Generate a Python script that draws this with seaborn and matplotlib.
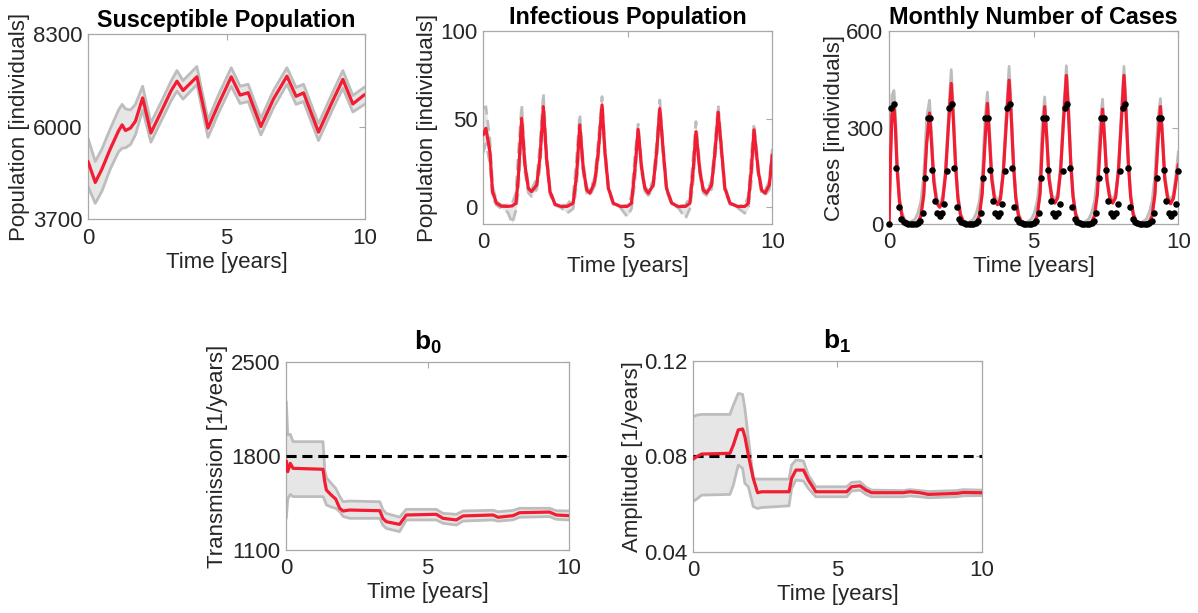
import numpy as np
import pandas as pd
import matplotlib
matplotlib.use('Agg')
import matplotlib.pyplot as plt
import seaborn as sns

# ---------------- data ----------------
# Susceptible population
s_t = [0.00, 0.26, 0.50, 0.80, 1.10, 1.23, 1.35, 1.53, 1.71, 1.97, 2.27, 2.60, 3.00, 3.21, 3.43,
       3.93, 4.33, 4.70, 5.17, 5.49, 5.78, 6.24, 6.70, 7.18, 7.51, 7.78, 8.32, 8.80, 9.20, 9.56, 9.98]
s_mean = [5140, 4620, 4950, 5450, 5900, 6050, 5910, 5970, 6140, 6720, 5850, 6320, 6900, 7135, 6905,
          7245, 5970, 6550, 7245, 6790, 6850, 6010, 6700, 7260, 6760, 6845, 5870, 6600, 7180, 6570, 6800]
s_up = [5720, 5140, 5450, 5950, 6420, 6560, 6450, 6420, 6560, 7010, 6100, 6560, 7140, 7400, 7150,
        7500, 6170, 6780, 7470, 7010, 7060, 6210, 6910, 7470, 6980, 7060, 6080, 6810, 7400, 6780, 6990]
s_lo = [4520, 4100, 4400, 4950, 5380, 5470, 5480, 5560, 5800, 6420, 5620, 6090, 6650, 6890, 6690,
        7050, 5740, 6330, 7010, 6580, 6630, 5800, 6480, 7060, 6560, 6630, 5660, 6390, 6960, 6370, 6560]

# Infectious population
i_t = [0.00, 0.09, 0.23, 0.32, 0.46, 0.63, 0.85, 1.00, 1.13, 1.21, 1.33, 1.44, 1.56, 1.67, 1.85, 1.96,
       2.08, 2.19, 2.31, 2.48, 2.70, 2.90, 3.11, 3.23, 3.34, 3.46, 3.58, 3.69, 3.86, 3.98, 4.11, 4.21,
       4.33, 4.50, 4.75, 4.98, 5.13, 5.25, 5.36, 5.48, 5.59, 5.71, 5.88, 6.00, 6.11, 6.23, 6.34, 6.52,
       6.75, 7.00, 7.15, 7.27, 7.36, 7.50, 7.61, 7.73, 7.90, 8.02, 8.13, 8.25, 8.36, 8.54, 8.80, 9.05,
       9.17, 9.28, 9.37, 9.52, 9.63, 9.75, 9.90, 10.0]
i_mean = [41, 44.7, 31.4, 8.7, 2.1, 0.4, 0.3, 0.6, 2.1, 16.3, 50.4, 23.9, 10.6, 8.7, 12.5, 27.7,
          57, 27.7, 8.7, 1.5, 0.2, 0.3, 2.1, 18.2, 46.6, 22, 9.7, 7.8, 14.4, 31.4, 58, 31.4,
          10.6, 2.1, 0.2, 0.3, 2.1, 22, 44.1, 22, 10.6, 7.8, 12.5, 31.4, 56, 31.4, 10.6, 2.1,
          0.2, 0.3, 2.1, 22, 42.8, 20, 9.7, 7.8, 12.5, 31.4, 53.8, 31.4, 10.6, 2.1, 0.2, 0.3,
          2.1, 22, 43.8, 20, 9.7, 7.8, 12.5, 29.5]
i_up = [56, 57, 38, 12, 3, 1, 1, 2, 8, 30, 58, 28, 12, 10, 16, 35,
        64.6, 32, 10, 2, 1, 1, 6, 28, 52.6, 25, 11, 9, 17, 38, 62.7, 34,
        12, 2.5, 0.5, 1, 6, 30, 47, 24, 12, 9, 15, 37, 60.8, 34, 12, 2.5,
        0.5, 1, 6, 30, 48.5, 22, 11, 9, 15, 37, 58, 34, 12, 2.5, 0.5, 1,
        6, 30, 47.5, 22, 11, 9, 15, 33]
i_lo = [31, 36, 25, 5, 1, -1, -3, -9.3, -2, 8, 44, 20, 8, 6, 10, 22,
        52, 24, 7, 1, -0.5, -3.6, -1, 12, 42, 19, 8, 6.5, 12, 27, 54, 28,
        9, 1.5, -0.5, -5.5, -1, 15, 41, 20, 9, 6.5, 10, 27, 52, 28, 9, 1.5,
        -0.5, -6.4, -1, 15, 40, 18, 8, 6.5, 10, 27, 50, 28, 9, 1.5, -0.5, -3.6,
        -1, 15, 40, 18, 8, 6.5, 10, 26]

# Monthly cases: model curve
c_t = [0.00, 0.05, 0.10, 0.17, 0.22, 0.28, 0.36, 0.45, 0.55, 0.70, 0.90, 1.00, 1.10, 1.20, 1.30, 1.40,
       1.47, 1.55, 1.65, 1.75, 1.85, 1.95, 2.05, 2.15, 2.22, 2.30, 2.38, 2.47, 2.57, 2.72, 2.92, 3.02,
       3.12, 3.22, 3.32, 3.40, 3.47, 3.55, 3.65, 3.75, 3.85, 3.95, 4.05, 4.15, 4.22, 4.30, 4.38, 4.47,
       4.57, 4.72, 4.92, 5.02, 5.12, 5.22, 5.30, 5.38, 5.45, 5.53, 5.63, 5.73, 5.83, 5.93, 6.03, 6.13,
       6.20, 6.28, 6.36, 6.45, 6.55, 6.70, 6.90, 7.00, 7.10, 7.20, 7.30, 7.38, 7.45, 7.53, 7.63, 7.73,
       7.83, 7.93, 8.03, 8.12, 8.19, 8.27, 8.35, 8.44, 8.54, 8.69, 8.89, 8.99, 9.09, 9.19, 9.29, 9.38,
       9.45, 9.53, 9.63, 9.73, 9.83, 9.93, 10.0]
c_mean = [0, 200, 340, 368, 300, 170, 70, 25, 6, 1, 1, 5, 25, 90, 250, 345,
          250, 130, 65, 52, 70, 150, 300, 437, 330, 180, 80, 28, 7, 1, 1, 5,
          25, 95, 260, 375, 270, 140, 75, 60, 78, 160, 310, 447, 340, 185, 82, 28,
          7, 1, 1, 5, 25, 95, 250, 365, 270, 140, 80, 65, 82, 165, 320, 462,
          350, 190, 85, 30, 8, 1, 1, 5, 25, 92, 250, 357, 265, 138, 80, 65,
          82, 165, 320, 462, 350, 190, 85, 30, 8, 1, 1, 5, 25, 92, 250, 365,
          270, 140, 80, 63, 80, 140, 185]
c_up = [0, 240, 400, 415, 345, 200, 85, 35, 12, 5, 15, 35, 70, 150, 330, 385,
        280, 150, 80, 62, 85, 170, 330, 480, 365, 200, 95, 35, 10, 3, 15, 35,
        70, 150, 330, 410, 300, 160, 90, 70, 90, 175, 340, 490, 370, 205, 95, 35,
        10, 3, 15, 35, 70, 150, 320, 395, 290, 155, 92, 75, 95, 180, 350, 492,
        380, 210, 98, 37, 11, 3, 15, 35, 70, 150, 320, 388, 285, 152, 92, 75,
        95, 180, 350, 490, 380, 210, 98, 37, 11, 3, 15, 35, 70, 150, 320, 390,
        290, 155, 92, 73, 93, 165, 225]

# Monthly cases: observed (one value per month)
obs_cases = [0,
             360, 373, 175, 52, 15, 5, 2, 1, 0, 0, 1, 2, 8, 35, 142, 330, 330, 168, 71, 34, 25, 34, 61,
             165, 360, 373, 175, 52, 15, 5, 2, 1, 0, 0, 1, 2, 8, 35, 142, 330, 330, 168, 71, 34, 25, 34, 61,
             165, 360, 373, 175, 52, 15, 5, 2, 1, 0, 0, 1, 2, 8, 35, 142, 330, 330, 168, 71, 34, 25, 34, 61,
             165, 360, 373, 175, 52, 15, 5, 2, 1, 0, 0, 1, 2, 8, 35, 142, 330, 330, 168, 71, 34, 25, 34, 61,
             165, 360, 373, 175, 52, 15, 5, 2, 1, 0, 0, 1, 2, 8, 35, 142, 330, 330, 168, 71, 34, 25, 34, 61,
             165]
obs_t = np.arange(len(obs_cases)) / 12.0

# b0 transmission
b0_t = [0, 0.05, 0.14, 0.24, 1.30, 1.36, 1.42, 1.59, 1.75, 1.89, 2.01, 2.24, 3.31, 3.42, 3.54, 4.01,
        4.25, 5.31, 5.55, 6.02, 6.26, 7.32, 7.50, 8.03, 8.26, 9.32, 9.56, 10.0]
b0_mean = [1764, 1684, 1746, 1709, 1702, 1610, 1547, 1510, 1480, 1411, 1391, 1398, 1393, 1336, 1311, 1291,
           1361, 1366, 1336, 1324, 1354, 1361, 1344, 1356, 1378, 1383, 1361, 1356]
b0_up = [2207, 1958, 1963, 1908, 1908, 1700, 1640, 1597, 1560, 1500, 1460, 1465, 1460, 1400, 1373, 1345,
         1403, 1403, 1373, 1366, 1391, 1396, 1385, 1395, 1411, 1411, 1393, 1391]
b0_lo = [1336, 1480, 1515, 1498, 1498, 1470, 1436, 1420, 1411, 1386, 1350, 1336, 1336, 1285, 1261, 1237,
         1324, 1324, 1299, 1286, 1316, 1324, 1315, 1325, 1344, 1349, 1329, 1324]
b0_true = 1800

# b1 amplitude
b1_t = [0, 0.116, 0.29, 1.27, 1.39, 1.56, 1.71, 1.79, 1.91, 2.08, 2.23, 2.37, 3.32, 3.41, 3.56, 3.82,
        3.99, 4.25, 5.32, 5.49, 5.78, 5.99, 6.18, 7.28, 7.51, 7.86, 8.15, 9.13, 9.36, 10.0]
b1_mean = [0.0788, 0.0798, 0.0809, 0.0812, 0.0847, 0.0910, 0.0914, 0.0882, 0.0805, 0.0707, 0.0647, 0.0651,
           0.0651, 0.0707, 0.0742, 0.0742, 0.0700, 0.0651, 0.0651, 0.0672, 0.0676, 0.0658, 0.0647, 0.0647,
           0.0651, 0.0647, 0.0640, 0.0644, 0.0648, 0.0647]
b1_up = [0.0965, 0.0972, 0.0975, 0.0975, 0.1014, 0.1063, 0.1059, 0.1000, 0.0875, 0.0707, 0.0704, 0.0704,
         0.0704, 0.0763, 0.0784, 0.0780, 0.0721, 0.0672, 0.0672, 0.0690, 0.0693, 0.0670, 0.0658, 0.0656,
         0.0660, 0.0656, 0.0652, 0.0656, 0.0660, 0.0658]
b1_lo = [0.0612, 0.0620, 0.0637, 0.0640, 0.0679, 0.0763, 0.0749, 0.0686, 0.0672, 0.0589, 0.0581, 0.0585,
         0.0592, 0.0665, 0.0700, 0.0696, 0.0665, 0.0630, 0.0630, 0.0654, 0.0658, 0.0640, 0.0630, 0.0630,
         0.0634, 0.0630, 0.0626, 0.0630, 0.0634, 0.0635]
b1_true = 0.08

# ---------------- style ----------------
sns.set_theme(style='white')
plt.rcParams['font.family'] = ['Liberation Sans', 'DejaVu Sans']
plt.rcParams['mathtext.fontset'] = 'custom'
plt.rcParams['mathtext.bf'] = 'Liberation Sans:bold'
plt.rcParams['mathtext.rm'] = 'Liberation Sans'
plt.rcParams['lines.solid_joinstyle'] = 'round'

RED = '#f21d32'
BAND_FILL = '#e6e6e6'
BAND_EDGE = '#bdbdbd'
TXT = '#262626'
SPINE = '#a8a8a8'
FS = 16
TFS = 16.8

fig = plt.figure(figsize=(11.98, 6.13), dpi=100)


def style(ax, ylabel, title, ylim, yticks, ylabelpad=2, tfs=TFS, tpad=5):
    ax.set_xlim(0, 10)
    ax.set_ylim(*ylim)
    ax.set_xticks([0, 5, 10])
    ax.set_xticklabels(['0', '5', '10'])
    ax.set_yticks(yticks)
    ax.set_yticklabels([('%g' % v) if not isinstance(v, float) or v >= 1 else ('%.2f' % v) for v in yticks])
    ax.tick_params(axis='both', direction='in', length=4, width=0.8, color=SPINE,
                   labelsize=FS, labelcolor=TXT, top=True, right=True)
    ax.tick_params(axis='x', pad=6)
    ax.tick_params(axis='y', pad=4)
    for sp in ax.spines.values():
        sp.set_color(SPINE)
        sp.set_linewidth(0.9)
    ax.set_xlabel('Time [years]', fontsize=FS, color=TXT, labelpad=2)
    ax.set_ylabel(ylabel, fontsize=FS, color=TXT, labelpad=ylabelpad)
    ax.set_title(title, fontsize=tfs, fontweight='bold', color='black', pad=tpad)
    ax.grid(False)


def band(ax, t, lo, up, mean, dashed=False):
    ax.fill_between(t, lo, up, color=BAND_FILL, lw=0, zorder=1)
    kw = dict(color=BAND_EDGE, lw=2.0, estimator=None, sort=False, zorder=2)
    if dashed:
        kw['dashes'] = (4, 2)
    sns.lineplot(x=t, y=up, ax=ax, **kw)
    sns.lineplot(x=t, y=lo, ax=ax, **kw)
    sns.lineplot(x=t, y=mean, ax=ax, color=RED, lw=2.3, estimator=None, sort=False, zorder=4)


# Panel 1
ax1 = fig.add_axes([0.0735, 0.6420, 0.2312, 0.3020])
band(ax1, s_t, s_lo, s_up, s_mean)
style(ax1, 'Population [individuals]', 'Susceptible Population', (3700, 8300), [3700, 6000, 8300])

# Panel 2
ax2 = fig.add_axes([0.4034, 0.6346, 0.2412, 0.3148])
band(ax2, i_t, i_lo, i_up, i_mean, dashed=True)
style(ax2, 'Population [individuals]', 'Infectious Population', (-9.7, 100), [0, 50, 100])

# Panel 3
ax3 = fig.add_axes([0.7421, 0.6346, 0.2415, 0.3148])
band(ax3, c_t, c_mean, c_up, c_mean)
sns.scatterplot(x=obs_t, y=obs_cases, ax=ax3, color='black', s=22, linewidth=0, zorder=5, clip_on=False)
style(ax3, 'Cases [individuals]', 'Monthly Number of Cases', (0, 600), [0, 300, 600], ylabelpad=1)

# Bottom left: b0
ax4 = fig.add_axes([0.2390, 0.1028, 0.2357, 0.3062])
band(ax4, b0_t, b0_lo, b0_up, b0_mean)
ax4.axhline(b0_true, color='black', lw=2.2, dashes=(3.3, 1.9), zorder=3)
style(ax4, 'Transmission [1/years]', r'$\mathbf{b}_\mathbf{0}$', (1100, 2500), [1100, 1800, 2500],
      tfs=19, tpad=9)

# Bottom right: b1
ax5 = fig.add_axes([0.5787, 0.1000, 0.2407, 0.3116])
band(ax5, b1_t, b1_lo, b1_up, b1_mean)
ax5.axhline(b1_true, color='black', lw=2.2, dashes=(3.3, 1.9), zorder=3)
style(ax5, 'Amplitude [1/years]', r'$\mathbf{b}_\mathbf{1}$', (0.04, 0.12), [0.04, 0.08, 0.12], ylabelpad=1,
      tfs=19, tpad=9)

fig.savefig('out.png', dpi=100)
